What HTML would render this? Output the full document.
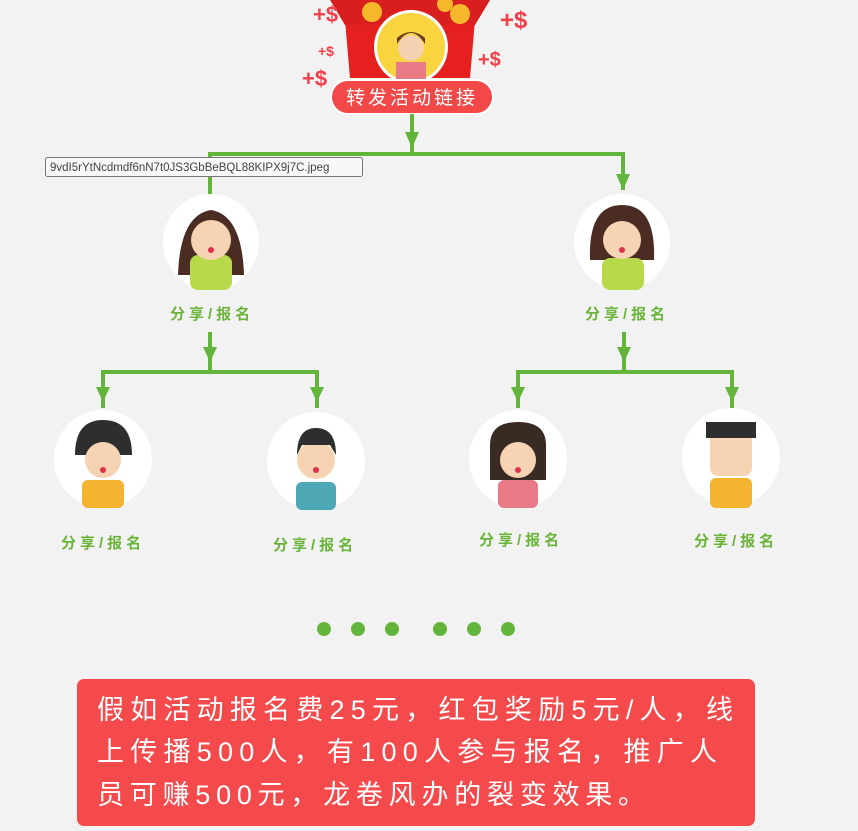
<!DOCTYPE html>
<html><head><meta charset="utf-8"><style>
html,body{margin:0;padding:0;background:#f2f2f2;width:858px;height:831px;overflow:hidden}
svg{display:block}
text{font-family:"Liberation Sans","Noto Sans CJK SC",sans-serif}
</style></head><body>
<svg width="858" height="831" viewBox="0 0 858 831">
<rect width="858" height="831" fill="#f2f2f2"/>
<g>
<path d="M345,20 L475,20 L470,78 L350,78 Z" fill="#e5201f"/>
<path d="M330,0 L490,0 L475,25 L345,25 Z" fill="#d81e1e"/>
<circle cx="372" cy="12" r="10" fill="#f5b82a"/><circle cx="460" cy="14" r="10" fill="#f5b82a"/><circle cx="445" cy="4" r="8" fill="#f5b82a"/>
<circle cx="411" cy="47" r="37" fill="#fff"/>
<circle cx="411" cy="47" r="34" fill="#f8d43e"/>
<rect x="396" y="62" width="30" height="20" fill="#e97b86"/>
<circle cx="411" cy="48" r="13" fill="#f4d1b0"/>
<path d="M397,44 Q411,22 425,44 L425,38 Q411,26 397,38Z" fill="#6b3a24"/>
<text x="313" y="22" font-size="22" fill="#f0404a" font-weight="bold">+$</text>
<text x="500" y="28" font-size="24" fill="#f0404a" font-weight="bold">+$</text>
<text x="318" y="56" font-size="14" fill="#f0404a" font-weight="bold">+$</text>
<text x="302" y="86" font-size="22" fill="#f0404a" font-weight="bold">+$</text>
<text x="478" y="66" font-size="20" fill="#f0404a" font-weight="bold">+$</text>
<rect x="331" y="80" width="162" height="34" rx="17" fill="#f24848" stroke="#fff" stroke-width="2"/>
<text x="412" y="104" font-size="19" fill="#fff" text-anchor="middle" letter-spacing="3">转发活动链接</text>
</g>
<g stroke="#62b53a" stroke-width="4" fill="none">
<line x1="412" y1="114" x2="412" y2="152" /><path d="M405,132 L419,132 L412,148Z" fill="#62b53a" stroke="none"/>
<polyline points="210,196 210,154 623,154 623,190"/><path d="M616,174 L630,174 L623,190Z" fill="#62b53a" stroke="none"/>
<line x1="210" y1="332" x2="210" y2="370"/><path d="M203,347 L217,347 L210,362Z" fill="#62b53a" stroke="none"/>
<polyline points="103,408 103,372 317,372 317,408"/>
<path d="M96,387 L110,387 L103,402Z" fill="#62b53a" stroke="none"/><path d="M310,387 L324,387 L317,402Z" fill="#62b53a" stroke="none"/>
<line x1="624" y1="332" x2="624" y2="370"/><path d="M617,347 L631,347 L624,362Z" fill="#62b53a" stroke="none"/>
<polyline points="518,408 518,372 732,372 732,408"/>
<path d="M511,387 L525,387 L518,402Z" fill="#62b53a" stroke="none"/><path d="M725,387 L739,387 L732,402Z" fill="#62b53a" stroke="none"/>
</g>
<rect x="45.5" y="157.5" width="317" height="19" rx="2" fill="#f8f8f8" stroke="#777"/>
<text x="50" y="171" font-size="11.5" fill="#444">9vdI5rYtNcdmdf6nN7t0JS3GbBeBQL88KIPX9j7C.jpeg</text>
<g>
<circle cx="211" cy="242" r="48" fill="#fff"/>
<path d="M178,275 Q180,215 211,210 Q242,215 244,275Z" fill="#4a2c22"/>
<rect x="190" y="255" width="42" height="35" rx="8" fill="#b8d94a"/>
<circle cx="211" cy="240" r="20" fill="#f5d3b3"/>
<circle cx="211" cy="250" r="3" fill="#e0304a"/>
</g>
<g>
<circle cx="622" cy="242" r="48" fill="#fff"/>
<path d="M590,260 Q588,205 622,205 Q656,205 654,260Z" fill="#4a2c22"/>
<rect x="602" y="258" width="42" height="32" rx="8" fill="#b8d94a"/>
<circle cx="622" cy="240" r="19" fill="#f5d3b3"/>
<circle cx="622" cy="250" r="3" fill="#e0304a"/>
</g>
<g>
<circle cx="103" cy="459" r="49" fill="#fff"/>
<rect x="82" y="480" width="42" height="28" rx="6" fill="#f4b430"/>
<path d="M75,455 Q75,420 103,420 Q132,420 132,455Z" fill="#2e2e2e"/>
<circle cx="103" cy="460" r="18" fill="#f5d3b3"/>
<circle cx="103" cy="470" r="3" fill="#e0304a"/>
</g>
<g>
<circle cx="316" cy="461" r="49" fill="#fff"/>
<rect x="296" y="482" width="40" height="28" rx="6" fill="#4da7b4"/>
<circle cx="316" cy="460" r="19" fill="#f5d3b3"/>
<path d="M297,455 Q297,428 316,428 Q336,428 336,455 L330,445 L302,445Z" fill="#2e2e2e"/>
<circle cx="316" cy="470" r="3" fill="#e0304a"/>
</g>
<g>
<circle cx="518" cy="459" r="49" fill="#fff"/>
<rect x="498" y="480" width="40" height="28" rx="6" fill="#e97b86"/>
<path d="M490,480 L490,445 Q490,422 518,422 Q546,422 546,445 L546,480Z" fill="#3a2a24"/>
<circle cx="518" cy="460" r="18" fill="#f5d3b3"/>
<circle cx="518" cy="470" r="3" fill="#e0304a"/>
</g>
<g>
<circle cx="731" cy="457" r="49" fill="#fff"/>
<rect x="710" y="478" width="42" height="30" rx="6" fill="#f4b430"/>
<rect x="710" y="430" width="42" height="46" rx="8" fill="#f5d3b3"/>
<rect x="706" y="422" width="50" height="16" fill="#2e2e2e"/>
</g>
<g font-size="15" font-weight="bold" fill="#6ab43a" letter-spacing="4">
<text x="170" y="319">分享/报名</text>
<text x="585" y="319">分享/报名</text>
<text x="61" y="548">分享/报名</text>
<text x="273" y="550">分享/报名</text>
<text x="479" y="545">分享/报名</text>
<text x="694" y="546">分享/报名</text>
</g>
<g fill="#62b53a">
<circle cx="324" cy="629" r="7"/><circle cx="358" cy="629" r="7"/><circle cx="392" cy="629" r="7"/>
<circle cx="440" cy="629" r="7"/><circle cx="474" cy="629" r="7"/><circle cx="508" cy="629" r="7"/>
</g>
<rect x="77" y="679" width="678" height="147" rx="7" fill="#f44a4c"/>
<g font-size="27" fill="#fff">
<text x="97" y="719" textLength="636" lengthAdjust="spacing">假如活动报名费25元，红包奖励5元/人，线</text>
<text x="97" y="761" textLength="620" lengthAdjust="spacing">上传播500人，有100人参与报名，推广人</text>
<text x="97" y="804" textLength="548" lengthAdjust="spacing">员可赚500元，龙卷风办的裂变效果。</text>
</g>
</svg>
</body></html>
